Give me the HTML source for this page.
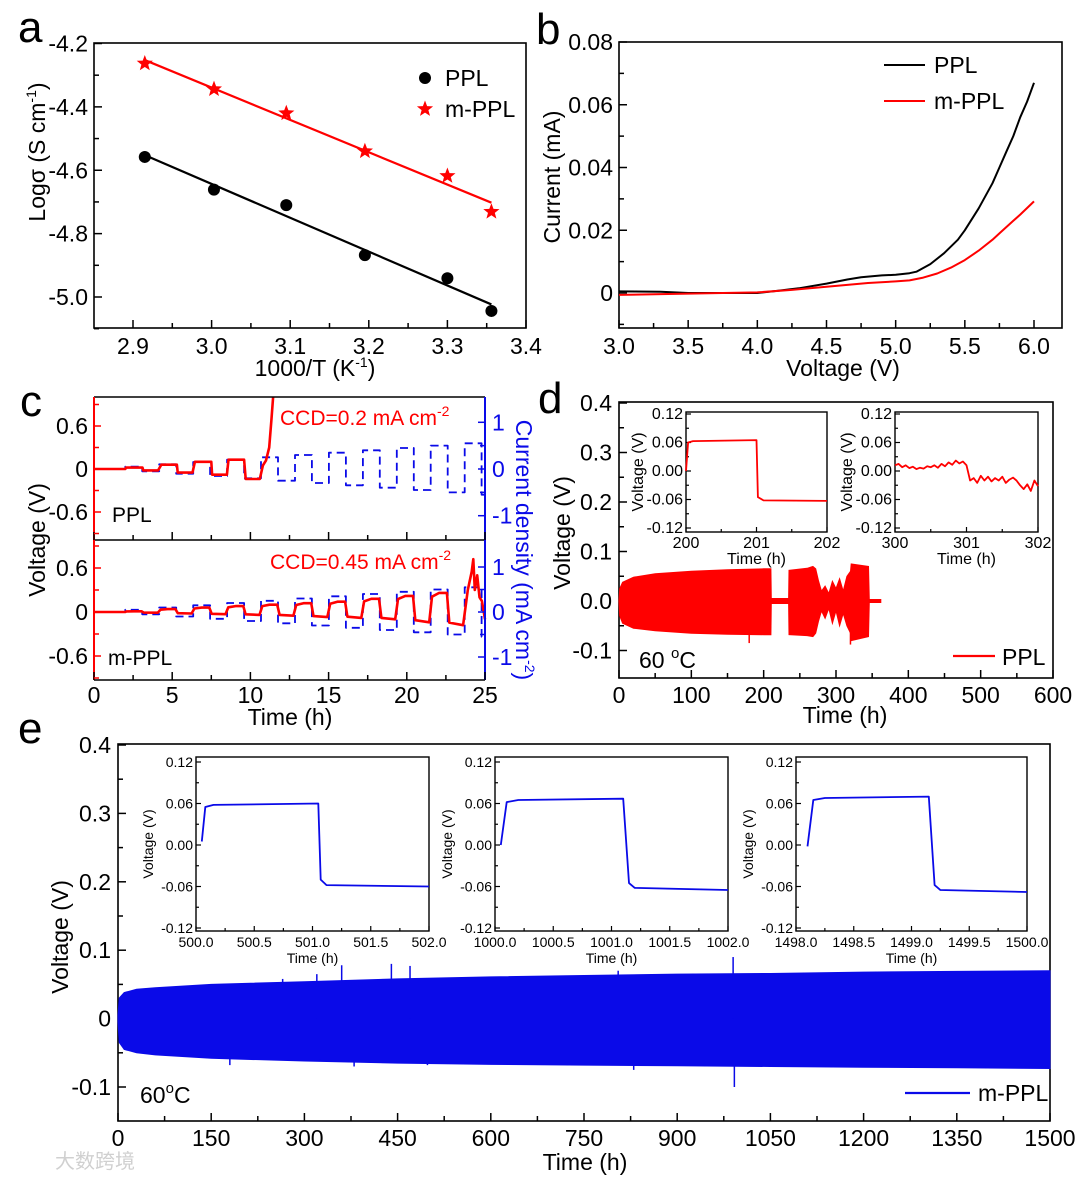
<!DOCTYPE html>
<html><head><meta charset="utf-8"><style>
html,body{margin:0;padding:0;background:#fff;}
svg{display:block;}
</style></head><body>
<svg id="fig" xmlns="http://www.w3.org/2000/svg" width="1080" height="1179" viewBox="0 0 1080 1179" font-family="Liberation Sans, sans-serif"></svg>
<script>
// ---- panel a data ----
const aX = [2.915, 3.003, 3.095, 3.195, 3.300, 3.356];
const aPPL = [-4.558, -4.661, -4.710, -4.868, -4.941, -5.044];
const aMPPL = [-4.263, -4.344, -4.420, -4.540, -4.618, -4.731];
const aXTicks = [2.9, 3.0, 3.1, 3.2, 3.3, 3.4];
const aYTicks = [-4.2, -4.4, -4.6, -4.8, -5.0];
// ---- panel b data ----
const bVPPL = [3.0, 3.3, 3.5, 3.8, 4.0, 4.15, 4.3, 4.5, 4.65, 4.75, 4.9, 5.0, 5.1, 5.15, 5.25, 5.35, 5.45, 5.5, 5.6, 5.7, 5.75, 5.8, 5.85, 5.9, 5.95, 6.0];
const bIPPL = [0.0005, 0.0004, 0.0, 0.0, 0.0, 0.0007, 0.0015, 0.003, 0.0043, 0.005, 0.0056, 0.0058, 0.0063, 0.0068, 0.0092, 0.0127, 0.017, 0.020, 0.027, 0.035, 0.040, 0.045, 0.050, 0.056, 0.061, 0.067];
const bVM = [3.0, 3.5, 4.0, 4.25, 4.5, 4.8, 5.0, 5.1, 5.2, 5.3, 5.4, 5.5, 5.6, 5.7, 5.75, 5.85, 5.9, 6.0];
const bIM = [-0.0006, -0.0002, 0.0002, 0.001, 0.002, 0.0032, 0.0037, 0.0040, 0.0049, 0.0062, 0.0081, 0.0105, 0.0135, 0.017, 0.019, 0.023, 0.025, 0.0292];
const bXTicks = [3.0, 3.5, 4.0, 4.5, 5.0, 5.5, 6.0];
const bYTicks = [0, 0.02, 0.04, 0.06, 0.08];
// ---- panel c data ----
const cStart = [2.0, 4.17, 6.34, 8.51, 10.68, 12.85, 15.02, 17.19, 19.36, 21.53, 23.7];
const cAmp = [0.05, 0.10, 0.15, 0.20, 0.25, 0.30, 0.35, 0.40, 0.45, 0.50, 0.55];
const cTopT = [0, 2, 2.05, 3.1, 3.15, 4.1, 4.3, 5.3, 5.35, 6.3, 6.45, 7.5, 7.55, 8.5, 8.6, 9.6, 9.7, 10.6, 10.8, 11.0, 11.2, 11.35, 11.45];
const cTopV = [0, 0, 0.02, 0.02, -0.02, -0.02, 0.06, 0.06, -0.05, -0.05, 0.10, 0.10, -0.08, -0.08, 0.13, 0.13, -0.14, -0.14, 0.05, 0.12, 0.3, 0.7, 1.0];
const cBotHigh = [0.01, 0.04, 0.06, 0.08, 0.10, 0.12, 0.14, 0.18, 0.22, 0.26, 0.72];
const cBotLow = [-0.01, -0.02, -0.03, -0.04, -0.05, -0.07, -0.08, -0.10, -0.14, -0.18, -0.28];
// ---- panel d data ----
const dEnvT  = [0, 1, 5, 20, 50, 100, 150, 200, 210, 210.5, 234.5, 235, 260, 268, 272, 276, 280, 285, 290, 295, 300, 305, 310, 315, 320, 321, 345, 346, 362];
const dEnvUp = [0, 0.025, 0.038, 0.048, 0.055, 0.060, 0.063, 0.065, 0.065, 0.005, 0.005, 0.062, 0.066, 0.070, 0.065, 0.040, 0.020, 0.030, 0.015, 0.040, 0.025, 0.045, 0.020, 0.050, 0.060, 0.075, 0.070, 0.003, 0.003];
const dEnvLo = [0, -0.030, -0.045, -0.055, -0.060, -0.065, -0.067, -0.068, -0.068, -0.005, -0.005, -0.068, -0.070, -0.072, -0.065, -0.040, -0.020, -0.035, -0.015, -0.045, -0.020, -0.050, -0.025, -0.050, -0.065, -0.080, -0.072, -0.003, -0.003];
const dSpikeT = [180, 320];
const dSpikeV = [-0.085, -0.088];
const dXTicks = [0, 100, 200, 300, 400, 500, 600];
const dYTicks = [-0.1, 0.0, 0.1, 0.2, 0.3, 0.4];
const d1T = [200, 200.03, 200.1, 201.0, 201.02, 201.1, 202];
const d1V = [0.0, 0.06, 0.063, 0.065, -0.055, -0.062, -0.063];
const d2V = [0.012,0.015,0.008,0.012,0.006,0.009,0.004,0.007,0.005,0.010,0.008,0.012,0.007,0.015,0.010,0.018,0.013,0.022,0.016,0.020,0.012,-0.020,-0.015,-0.025,-0.010,-0.020,-0.012,-0.022,-0.015,-0.020,-0.012,-0.025,-0.018,-0.014,-0.020,-0.030,-0.038,-0.028,-0.042,-0.020,-0.032];
// ---- panel e data ----
const eT  = [0, 2, 10, 30, 60, 150, 300, 450, 600, 750, 900, 1050, 1200, 1350, 1500];
const eUp = [0.005, 0.030, 0.038, 0.043, 0.045, 0.050, 0.054, 0.058, 0.061, 0.063, 0.065, 0.066, 0.068, 0.069, 0.070];
const eLo = [-0.005, -0.035, -0.045, -0.050, -0.053, -0.058, -0.062, -0.065, -0.067, -0.068, -0.069, -0.070, -0.071, -0.072, -0.073];
const eSpikeT = [180, 265, 320, 325, 360, 380, 440, 470, 498, 805, 830, 990, 992];
const eSpikeV = [-0.068, 0.058, 0.065, -0.060, 0.078, -0.070, 0.080, 0.077, -0.068, 0.070, -0.075, 0.090, -0.100];
const eXTicks = [0, 150, 300, 450, 600, 750, 900, 1050, 1200, 1350, 1500];
const eYTicks = [-0.1, 0, 0.1, 0.2, 0.3, 0.4];
const e1T = [500.05, 500.08, 500.15, 501.05, 501.07, 501.12, 502];
const e1V = [0.005, 0.055, 0.058, 0.060, -0.050, -0.058, -0.060];
const e2T = [1000.05, 1000.1, 1000.2, 1001.1, 1001.15, 1001.2, 1002];
const e2V = [0.0, 0.062, 0.065, 0.067, -0.055, -0.062, -0.065];
const e3T = [1498.1, 1498.15, 1498.25, 1499.15, 1499.2, 1499.25, 1500];
const e3V = [-0.002, 0.065, 0.068, 0.070, -0.058, -0.065, -0.068];

const NS = 'http://www.w3.org/2000/svg';
const svg = document.getElementById('fig');
const RED = '#ff0000', BLUE = '#0a0ae8';
const L = (d0, d1, r0, r1) => v => r0 + (v - d0) * (r1 - r0) / (d1 - d0);
function el(tag, attrs, name) {
  const e = document.createElementNS(NS, tag);
  for (const k in attrs) e.setAttribute(k, attrs[k]);
  
  
  svg.appendChild(e);
  return e;
}
function line(x1, y1, x2, y2, name, color, w) {
  return el('line', {x1, y1, x2, y2, stroke: color || '#000', 'stroke-width': w || 1.5}, name);
}
function txt(x, y, s, name, size, anchor, color, rot) {
  const a = {x, y, 'font-size': size || 23, 'text-anchor': anchor || 'start', fill: color || '#000'};
  if (rot) a.transform = 'rotate(' + rot + ' ' + x + ' ' + y + ')';
  const t = el('text', a, name);
  t.innerHTML = s;
  return t;
}
function poly(xs, ys, name, color, w, dash) {
  const pts = xs.map((x, i) => x.toFixed(1) + ',' + ys[i].toFixed(1)).join(' ');
  const a = {points: pts, fill: 'none', stroke: color, 'stroke-width': w || 2, 'stroke-linejoin': 'round'};
  if (dash) a['stroke-dasharray'] = dash;
  return el('polyline', a, name);
}
function frame(x0, y0, x1, y1, name) {
  return el('rect', {x: x0, y: y0, width: x1 - x0, height: y1 - y0, fill: 'none', stroke: '#000', 'stroke-width': 1.6}, name);
}
const SUP = s => '<tspan dy="-9" font-size="14">' + s + '</tspan><tspan dy="9">';

// ================= Panel a =================
(function () {
  const ax = L(2.9, 3.4, 133, 526), ay = L(-4.2, -5.0, 43.5, 297);
  frame(94, 43, 526, 328, 'panel-a-plot-frame');
  aXTicks.forEach(v => {
    line(ax(v), 328, ax(v), 320, 'panel-a-x-tick');
    txt(ax(v), 354, v.toFixed(1), 'panel-a-x-tick-label', 23, 'middle');
    if (v < 3.4) line(ax(v + 0.05), 328, ax(v + 0.05), 323, 'panel-a-x-minor-tick');
  });
  aYTicks.forEach(v => {
    line(94, ay(v), 102, ay(v), 'panel-a-y-tick');
    txt(88, ay(v) + 8, v.toFixed(1), 'panel-a-y-tick-label', 23, 'end');
    line(94, ay(v - 0.1), 99, ay(v - 0.1), 'panel-a-y-minor-tick');
  });
  txt(45, 152, 'Logσ (S cm' + SUP('-1') + ')</tspan>', 'panel-a-y-axis-title', 23, 'middle', '#000', -90);
  txt(315, 376, '1000/T (K' + SUP('-1') + ')</tspan>', 'panel-a-x-axis-title', 23, 'middle');
  txt(18, 42, 'a', 'panel-a-letter', 44);
  function fit(ys) {
    const n = aX.length, mx = aX.reduce((a, b) => a + b) / n, my = ys.reduce((a, b) => a + b) / n;
    let sxy = 0, sxx = 0;
    aX.forEach((x, i) => { sxy += (x - mx) * (ys[i] - my); sxx += (x - mx) * (x - mx); });
    const k = sxy / sxx; return x => my + k * (x - mx);
  }
  const fP = fit(aPPL), fM = fit(aMPPL);
  line(ax(aX[0]), ay(fP(aX[0])), ax(aX[5]), ay(fP(aX[5])), 'ppl-fit-line', '#000', 2.2);
  line(ax(aX[0]), ay(fM(aX[0])), ax(aX[5]), ay(fM(aX[5])), 'm-ppl-fit-line', RED, 2.2);
  function star(cx, cy, r, name) {
    let p = [];
    for (let i = 0; i < 10; i++) {
      const rr = i % 2 ? r * 0.42 : r, an = -Math.PI / 2 + i * Math.PI / 5;
      p.push((cx + rr * Math.cos(an)).toFixed(1) + ',' + (cy + rr * Math.sin(an)).toFixed(1));
    }
    return el('polygon', {points: p.join(' '), fill: RED}, name);
  }
  aX.forEach((x, i) => {
    el('circle', {cx: ax(x), cy: ay(aPPL[i]), r: 6, fill: '#000'}, 'ppl-point');
    star(ax(x), ay(aMPPL[i]), 8.5, 'm-ppl-point');
  });
  el('circle', {cx: 425, cy: 78, r: 6, fill: '#000'}, 'legend-ppl-marker');
  txt(445, 86, 'PPL', 'legend-ppl-label', 23);
  star(425, 109, 8.5, 'legend-m-ppl-marker');
  txt(445, 117, 'm-PPL', 'legend-m-ppl-label', 23);
})();

// ================= Panel b =================
(function () {
  const bx = L(3, 6, 619, 1034), by = L(0, 0.08, 293, 42);
  frame(619, 42, 1062, 328, 'panel-b-plot-frame');
  bXTicks.forEach(v => {
    line(bx(v), 328, bx(v), 320, 'panel-b-x-tick');
    txt(bx(v), 354, v.toFixed(1), 'panel-b-x-tick-label', 23, 'middle');
    if (v < 6) line(bx(v + 0.25), 328, bx(v + 0.25), 323, 'panel-b-x-minor-tick');
  });
  bYTicks.forEach(v => {
    line(619, by(v), 627, by(v), 'panel-b-y-tick');
    txt(613, by(v) + 8, v === 0 ? '0' : v.toFixed(2), 'panel-b-y-tick-label', 23, 'end');
    line(619, by(v - 0.01), 624, by(v - 0.01), 'panel-b-y-minor-tick');
  });
  txt(560, 177, 'Current (mA)', 'panel-b-y-axis-title', 23, 'middle', '#000', -90);
  txt(843, 376, 'Voltage (V)', 'panel-b-x-axis-title', 23, 'middle');
  txt(536, 44, 'b', 'panel-b-letter', 44);
  poly(bVPPL.map(bx), bIPPL.map(by), 'ppl-lsv-curve', '#000', 2);
  poly(bVM.map(bx), bIM.map(by), 'm-ppl-lsv-curve', RED, 2);
  line(884, 65, 925, 65, 'legend-ppl-line', '#000', 2);
  txt(934, 73, 'PPL', 'legend-ppl-label', 23);
  line(884, 101, 925, 101, 'legend-m-ppl-line', RED, 2);
  txt(934, 109, 'm-PPL', 'legend-m-ppl-label', 23);
})();

// ================= Panel c =================
(function () {
  const cx = L(0, 25, 94, 485);
  const cyT = L(0, 0.6, 469, 426), cyB = L(0, 0.6, 612, 568);
  const crT = L(0, 1, 469, 422.3), crB = L(0, 1, 612, 567);
  function stairs(ry, name) {
    const xs = [cx(0)], ys = [ry(0)];
    cStart.forEach((s, i) => {
      const h = 1.085, a = cAmp[i];
      xs.push(cx(s), cx(s), cx(s + h), cx(s + h));
      ys.push(ry(0 + (i === 0 ? 0 : -cAmp[i - 1])), ry(a), ry(a), ry(-a));
    });
    xs.push(cx(25)); ys.push(ry(-cAmp[cAmp.length - 1]));
    return poly(xs, ys, name, BLUE, 1.8, '8,5');
  }
  stairs(crT, 'ppl-current-density-dashed');
  stairs(crB, 'm-ppl-current-density-dashed');
  poly(cTopT.map(cx), cTopV.map(cyT), 'ppl-voltage-curve', RED, 2.6);
  const bt = [0, 2], bv = [0, 0];
  cStart.forEach((s, i) => {
    const h = 1.085;
    if (i < 10) {
      bt.push(s + 0.08, s + h * 0.5, s + h - 0.05, s + h + 0.1, s + 2 * h - 0.1);
      bv.push(cBotHigh[i] * 0.8, cBotHigh[i], cBotHigh[i], cBotLow[i] * 0.8, cBotLow[i]);
    } else {
      bt.push(s + 0.2, s + 0.45, s + 0.55, s + 0.65, s + 0.8, s + 0.95, s + 1.1, s + 1.3);
      bv.push(0.3, 0.55, cBotHigh[i], 0.3, 0.5, 0.2, 0.15, -0.1);
    }
  });
  poly(bt.map(cx), bv.map(cyB), 'm-ppl-voltage-curve', RED, 2.6);
  line(94, 397, 485, 397, 'panel-c-top-border');
  line(94, 540, 485, 540, 'panel-c-divider');
  line(94, 680, 485, 680, 'panel-c-bottom-border');
  line(94, 397, 94, 680, 'panel-c-left-voltage-axis', RED, 2);
  line(485, 397, 485, 680, 'panel-c-right-current-axis', BLUE, 2);
  [0, 5, 10, 15, 20, 25].forEach(v => {
    line(cx(v), 680, cx(v), 672, 'panel-c-x-tick');
    line(cx(v), 540, cx(v), 532, 'panel-c-x-tick-upper');
    txt(cx(v), 703, String(v), 'panel-c-x-tick-label', 23, 'middle');
    if (v < 25) {
      line(cx(v + 2.5), 680, cx(v + 2.5), 675, 'panel-c-x-minor-tick');
      line(cx(v + 2.5), 540, cx(v + 2.5), 535, 'panel-c-x-minor-tick-upper');
    }
  });
  [[cyT, crT], [cyB, crB]].forEach(([vy, ry]) => {
    [-0.6, 0, 0.6].forEach(v => {
      line(94, vy(v), 101, vy(v), 'panel-c-voltage-tick', RED, 1.5);
      txt(88, vy(v) + 8, v === 0 ? '0' : v.toFixed(1), 'panel-c-voltage-tick-label', 23, 'end');
    });
    [-0.9, -0.3, 0.3, 0.9].forEach(v => line(94, vy(v), 99, vy(v), 'panel-c-voltage-minor-tick', RED, 1.5));
    [-1, 0, 1].forEach(v => {
      line(485, ry(v), 478, ry(v), 'panel-c-current-tick', BLUE, 1.5);
      txt(492, ry(v) + 8, String(v), 'panel-c-current-tick-label', 23, 'start', BLUE);
    });
    [-0.5, 0.5].forEach(v => line(485, ry(v), 480, ry(v), 'panel-c-current-minor-tick', BLUE, 1.5));
  });
  txt(112, 522, 'PPL', 'panel-c-ppl-label', 21);
  txt(108, 665, 'm-PPL', 'panel-c-m-ppl-label', 21);
  txt(280, 425, 'CCD=0.2 mA cm' + SUP('-2') + '</tspan>', 'ppl-ccd-annotation', 21, 'start', RED);
  txt(270, 569, 'CCD=0.45 mA cm' + SUP('-2') + '</tspan>', 'm-ppl-ccd-annotation', 21, 'start', RED);
  txt(45, 540, 'Voltage (V)', 'panel-c-y-axis-title', 23, 'middle', '#000', -90);
  txt(516, 550, 'Current density (mA cm' + SUP('-2') + ')</tspan>', 'panel-c-right-axis-title', 23, 'middle', BLUE, 90);
  txt(290, 725, 'Time (h)', 'panel-c-x-axis-title', 23, 'middle');
  txt(20, 416, 'c', 'panel-c-letter', 44);
})();

// ================= Inset helper =================
function inset(pre, x0, x1, y0, y1, yT, yB, tmin, tmax, xt, dec, T, V, color, fs) {
  const ix = L(tmin, tmax, x0, x1), iy = L(0.12, -0.12, yT, yB);
  el('rect', {x: x0, y: y0, width: x1 - x0, height: y1 - y0, fill: '#fff', stroke: '#000', 'stroke-width': 1.4}, pre + '-frame');
  [0.12, 0.06, 0, -0.06, -0.12].forEach(v => {
    line(x0, iy(v), x0 + 5, iy(v), pre + '-y-tick', '#000', 1.2);
    txt(x0 - 3, iy(v) + 5, v.toFixed(2), pre + '-y-tick-label', fs, 'end');
  });
  [0.09, 0.03, -0.03, -0.09].forEach(v => line(x0, iy(v), x0 + 3, iy(v), pre + '-y-minor-tick', '#000', 1.2));
  xt.forEach((v, i) => {
    line(ix(v), y1, ix(v), y1 - 5, pre + '-x-tick', '#000', 1.2);
    txt(ix(v), y1 + 16, v.toFixed(dec), pre + '-x-tick-label', fs, 'middle');
    if (i < xt.length - 1) { const m = (v + xt[i + 1]) / 2; line(ix(m), y1, ix(m), y1 - 3, pre + '-x-minor-tick', '#000', 1.2); }
  });
  txt((x0 + x1) / 2, y1 + 32, 'Time (h)', pre + '-x-axis-title', fs, 'middle');
  txt(x0 - 43, (y0 + y1) / 2, 'Voltage (V)', pre + '-y-axis-title', fs, 'middle', '#000', -90);
  poly(T.map(ix), V.map(iy), pre + '-curve', color, 1.8);
}

// ================= Panel d =================
(function () {
  const dx = L(0, 600, 619, 1053), dy = L(0, 0.4, 601, 403);
  frame(619, 402, 1053, 678, 'panel-d-plot-frame');
  dXTicks.forEach(v => {
    line(dx(v), 678, dx(v), 670, 'panel-d-x-tick');
    txt(dx(v), 703, String(v), 'panel-d-x-tick-label', 23, 'middle');
    if (v < 600) line(dx(v + 50), 678, dx(v + 50), 673, 'panel-d-x-minor-tick');
  });
  dYTicks.forEach(v => {
    line(619, dy(v), 627, dy(v), 'panel-d-y-tick');
    txt(612, dy(v) + 8, v.toFixed(1), 'panel-d-y-tick-label', 23, 'end');
    if (v < 0.4) line(619, dy(v + 0.05), 624, dy(v + 0.05), 'panel-d-y-minor-tick');
  });
  const up = dEnvT.map((t, i) => dx(t).toFixed(1) + ',' + dy(dEnvUp[i]).toFixed(1));
  const lo = dEnvT.map((t, i) => dx(t).toFixed(1) + ',' + dy(dEnvLo[i]).toFixed(1)).reverse();
  el('polygon', {points: up.concat(lo).join(' '), fill: RED, stroke: RED, 'stroke-width': 1}, 'ppl-cycling-band');
  dSpikeT.forEach((t, i) => line(dx(t), dy(0), dx(t), dy(dSpikeV[i]), 'ppl-voltage-spike', RED, 1.5));
  inset('ppl-inset-200h', 686, 827, 412, 532, 414, 528, 200, 202, [200, 201, 202], 0, d1T, d1V, RED, 16);
  const d2T = d2V.map((v, i) => 300 + i * 0.05);
  inset('ppl-inset-300h', 895, 1038, 412, 532, 414, 528, 300, 302, [300, 301, 302], 0, d2T, d2V, RED, 16);
  line(953, 656, 995, 656, 'legend-ppl-line', RED, 2.2);
  txt(1002, 665, 'PPL', 'legend-ppl-label', 23);
  txt(639, 668, '60 <tspan dy="-10" font-size="15">o</tspan><tspan dy="10">C</tspan>', 'panel-d-temperature-label', 23);
  txt(570, 533, 'Voltage (V)', 'panel-d-y-axis-title', 23, 'middle', '#000', -90);
  txt(845, 723, 'Time (h)', 'panel-d-x-axis-title', 23, 'middle');
  txt(538, 413, 'd', 'panel-d-letter', 44);
})();

// ================= Panel e =================
(function () {
  const ex = L(0, 1500, 118, 1050), ey = L(0, 0.1, 1018.6, 950.2);
  frame(118, 744, 1050, 1121, 'panel-e-plot-frame');
  eXTicks.forEach(v => {
    line(ex(v), 1121, ex(v), 1113, 'panel-e-x-tick');
    txt(ex(v), 1146, String(v), 'panel-e-x-tick-label', 23, 'middle');
    if (v < 1500) line(ex(v + 75), 1121, ex(v + 75), 1116, 'panel-e-x-minor-tick');
  });
  eYTicks.forEach(v => {
    line(118, ey(v), 126, ey(v), 'panel-e-y-tick');
    txt(111, ey(v) + 8, v === 0 ? '0' : v.toFixed(1), 'panel-e-y-tick-label', 23, 'end');
    if (v < 0.4) line(118, ey(v + 0.05), 123, ey(v + 0.05), 'panel-e-y-minor-tick');
  });
  const up = eT.map((t, i) => ex(t).toFixed(1) + ',' + ey(eUp[i]).toFixed(1));
  const lo = eT.map((t, i) => ex(t).toFixed(1) + ',' + ey(eLo[i]).toFixed(1)).reverse();
  el('polygon', {points: up.concat(lo).join(' '), fill: BLUE, stroke: BLUE, 'stroke-width': 1}, 'm-ppl-cycling-band');
  eSpikeT.forEach((t, i) => line(ex(t), ey(0), ex(t), ey(eSpikeV[i]), 'm-ppl-voltage-spike', BLUE, 1.5));
  inset('m-ppl-inset-500h', 196, 429, 757, 931, 762, 928, 500, 502, [500, 500.5, 501, 501.5, 502], 1, e1T, e1V, BLUE, 14);
  inset('m-ppl-inset-1000h', 495, 728, 757, 931, 762, 928, 1000, 1002, [1000, 1000.5, 1001, 1001.5, 1002], 1, e2T, e2V, BLUE, 14);
  inset('m-ppl-inset-1498h', 796, 1027, 757, 931, 762, 928, 1498, 1500, [1498, 1498.5, 1499, 1499.5, 1500], 1, e3T, e3V, BLUE, 14);
  line(905, 1093, 970, 1093, 'legend-m-ppl-line', BLUE, 2.2);
  txt(978, 1101, 'm-PPL', 'legend-m-ppl-label', 23);
  txt(140, 1103, '60<tspan dy="-10" font-size="15">o</tspan><tspan dy="10">C</tspan>', 'panel-e-temperature-label', 23);
  txt(68, 937, 'Voltage (V)', 'panel-e-y-axis-title', 23, 'middle', '#000', -90);
  txt(585, 1170, 'Time (h)', 'panel-e-x-axis-title', 23, 'middle');
  txt(18, 743, 'e', 'panel-e-letter', 44);
})();
txt(55, 1168, '大数跨境', 'watermark', 20, 'start', '#d0d0d0');
</script>
</body></html>
